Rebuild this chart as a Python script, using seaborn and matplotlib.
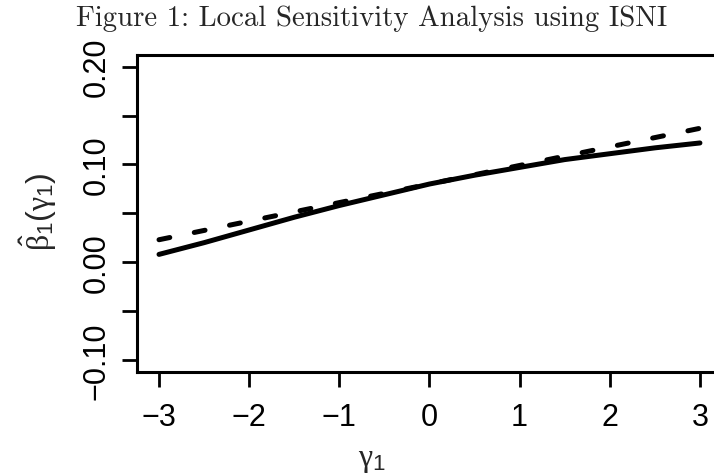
import numpy as np
import pandas as pd
import matplotlib
matplotlib.use("Agg")
import matplotlib.pyplot as plt
import seaborn as sns

# Data
gamma_solid = [-3.0, -2.5, -2.0, -1.5, -1.0, -0.5, 0.0, 0.5, 1.0, 1.5, 2.0, 2.5, 3.0]
beta_solid = [0.008, 0.020, 0.033, 0.046, 0.058, 0.069, 0.080, 0.089, 0.097, 0.105, 0.111, 0.117, 0.122]
gamma_dash = [-3.0, -2.0, -1.0, 0.0, 1.0, 2.0, 3.0]
beta_dash = [0.023, 0.042, 0.061, 0.080, 0.099, 0.118, 0.137]

xticks = [-3, -2, -1, 0, 1, 2, 3]
xticklabels = ["\u22123", "\u22122", "\u22121", "0", "1", "2", "3"]
yticks_major = [-0.10, 0.00, 0.10, 0.20]
yticklabels = ["\u22120.10", "0.00", "0.10", "0.20"]
yticks_minor = [-0.05, 0.05, 0.15]

title = "Figure 1: Local Sensitivity Analysis using ISNI"
xlabel = r"$\gamma_1$"
ylabel = r"$\hat{\beta}_1(\gamma_1)$"

sns.set_style("white")
plt.rcParams["font.family"] = ["Liberation Sans", "DejaVu Sans"]
plt.rcParams["mathtext.fontset"] = "custom"
plt.rcParams["mathtext.rm"] = "Liberation Sans"
plt.rcParams["mathtext.it"] = "Liberation Serif"
plt.rcParams["mathtext.bf"] = "Liberation Sans:bold"

df_s = pd.DataFrame({"g": gamma_solid, "b": beta_solid})
df_d = pd.DataFrame({"g": gamma_dash, "b": beta_dash})

fig = plt.figure(figsize=(7.14, 4.77), dpi=100)
ax = fig.add_axes([0.1924, 0.2187, 0.8182, 0.6639])

sns.lineplot(data=df_s, x="g", y="b", ax=ax, color="black", lw=3.6,
             solid_capstyle="round", legend=False)
sns.lineplot(data=df_d, x="g", y="b", ax=ax, color="black", lw=3.6,
             linestyle=(0, (2.2, 5.0)), dash_capstyle="round", legend=False)

ax.set_xlim(-3.24, 3.24)
ax.set_ylim(-0.112, 0.212)

ax.set_xticks(xticks)
ax.set_xticklabels(xticklabels)
ax.set_yticks(yticks_major)
ax.set_yticklabels(yticklabels, rotation=90, va="center")
ax.set_yticks(yticks_minor, minor=True)

ax.tick_params(axis="both", which="both", direction="out", length=10.8,
               width=2.0, color="black", labelsize=22, labelcolor="black")
ax.tick_params(axis="x", pad=11)
ax.tick_params(axis="y", pad=8)
ax.tick_params(bottom=True, left=True, which="both")

for s in ax.spines.values():
    s.set_visible(True)
    s.set_color("black")
    s.set_linewidth(2.2)

ax.set_xlabel("")
ax.set_ylabel("")

fig.text(372 / 714, 1 - 460 / 477, xlabel, fontsize=23, ha="center", va="center")
fig.text(38 / 714, 1 - 212 / 477, ylabel, fontsize=23, ha="center", va="center",
         rotation=90)
fig.text(372 / 714, 1 - 19 / 477, title, family="cmr10", fontsize=20.8,
         ha="center", va="center")

fig.savefig("out.png", dpi=100)
